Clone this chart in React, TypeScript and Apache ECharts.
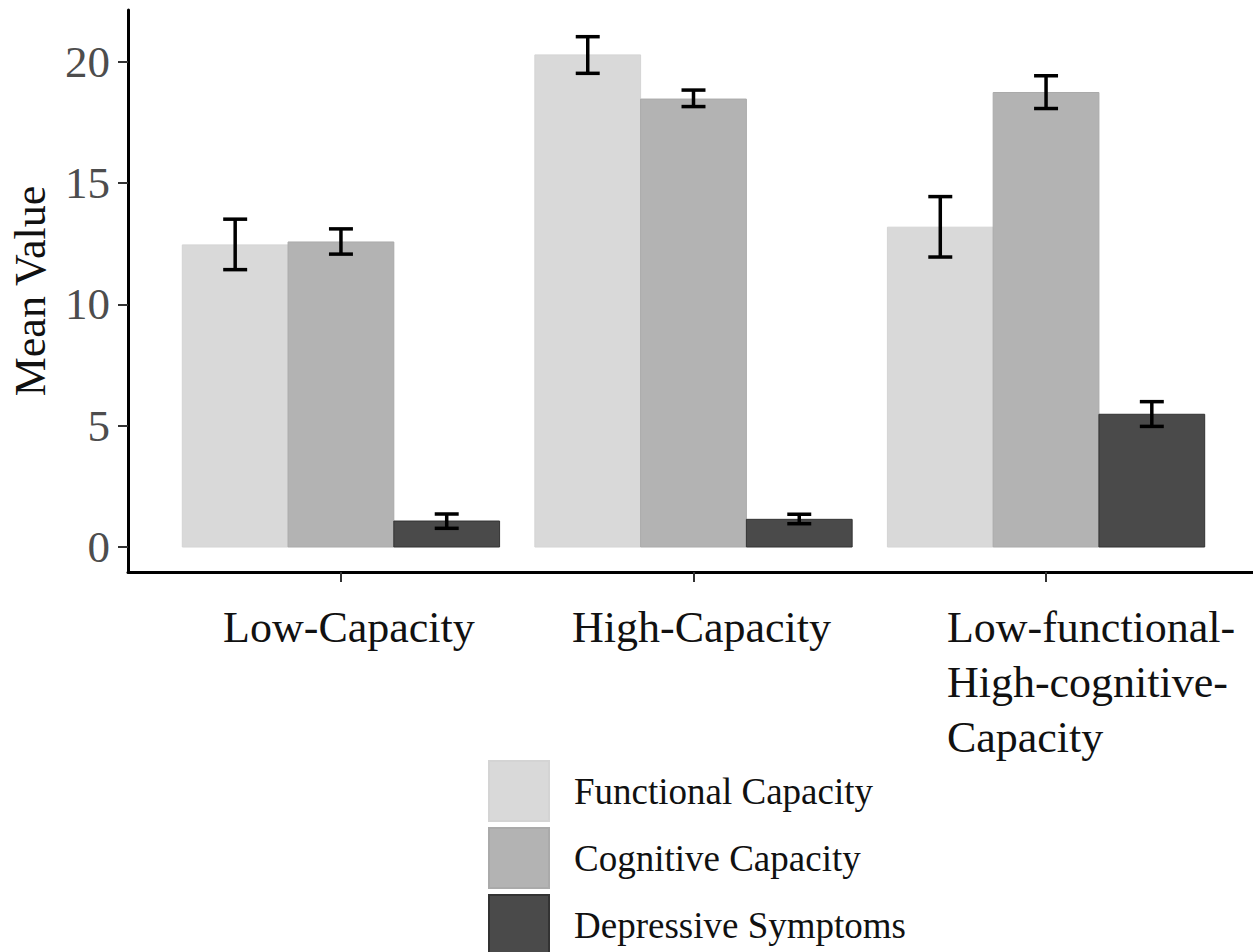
import React, { useEffect, useRef } from "react";
import * as echarts from "echarts";

const categories = [
  "Low-Capacity",
  "High-Capacity",
  "Low-functional-\nHigh-cognitive-\nCapacity",
];
const measures = ["Functional Capacity", "Cognitive Capacity", "Depressive Symptoms"];
const measureColors = ["#d9d9d9", "#b3b3b3", "#4a4a4a"];
const measureBorders = ["#d4d4d4", "#aaaaaa", "#333333"];

const functionalMean = [12.45, 20.28, 13.18];
const functionalLow = [11.43, 19.52, 11.95];
const functionalHigh = [13.51, 21.03, 14.44];

const cognitiveMean = [12.57, 18.46, 18.73];
const cognitiveLow = [12.07, 18.15, 18.07];
const cognitiveHigh = [13.11, 18.83, 19.42];

const depressiveMean = [1.07, 1.14, 5.47];
const depressiveLow = [0.77, 0.96, 4.97];
const depressiveHigh = [1.36, 1.35, 5.99];

const yTicks = [0, 5, 10, 15, 20];

const FONT = '"Liberation Serif", "Times New Roman", serif';

export default function App() {
  const ref = useRef<HTMLDivElement>(null);

  useEffect(() => {
    if (!ref.current) return;
    const chart = echarts.init(ref.current, undefined, { renderer: "svg" });

    const means = [functionalMean, cognitiveMean, depressiveMean];
    const lows = [functionalLow, cognitiveLow, depressiveLow];
    const highs = [functionalHigh, cognitiveHigh, depressiveHigh];
    const barW = 0.3;
    const capHalf = 0.034;

    const series = measures.map((name, s) => ({
      type: "custom",
      name,
      color: measureColors[s],
      itemStyle: { color: measureColors[s], borderColor: measureBorders[s], borderWidth: 1 },
      clip: false,
      encode: { x: 0, y: 1 },
      data: categories.map((_, i) => [i, means[s][i], lows[s][i], highs[s][i]]),
      renderItem: (params: any, api: any) => {
        const cat = api.value(0);
        const v = api.value(1);
        const lo = api.value(2);
        const hi = api.value(3);
        const xc = cat + (s - 1) * barW;
        const p0 = api.coord([xc - barW / 2, v]);
        const p1 = api.coord([xc + barW / 2, 0]);
        const pLo = api.coord([xc, lo]);
        const pHi = api.coord([xc, hi]);
        const cw = api.size([capHalf, 0])[0];
        const errStyle = { stroke: "#000000", lineWidth: 3.5, fill: "none" };
        return {
          type: "group",
          children: [
            {
              type: "rect",
              shape: { x: p0[0], y: p0[1], width: p1[0] - p0[0], height: p1[1] - p0[1] },
              style: { fill: measureColors[s], stroke: measureBorders[s], lineWidth: 1 },
            },
            { type: "line", shape: { x1: pLo[0], y1: pLo[1], x2: pHi[0], y2: pHi[1] }, style: errStyle },
            { type: "line", shape: { x1: pHi[0] - cw, y1: pHi[1], x2: pHi[0] + cw, y2: pHi[1] }, style: errStyle },
            { type: "line", shape: { x1: pLo[0] - cw, y1: pLo[1], x2: pLo[0] + cw, y2: pLo[1] }, style: errStyle },
          ],
        };
      },
    }));

    const labelStyle = { fontFamily: FONT, fontSize: 44, color: "#111111", lineHeight: 55 };

    chart.setOption({
      animation: false,
      backgroundColor: "#ffffff",
      grid: { left: 128, right: 0, top: 10, bottom: 380, containLabel: false },
      xAxis: {
        type: "value",
        min: -0.604,
        max: 2.587,
        splitLine: { show: false },
        axisLine: { show: true, onZero: false, lineStyle: { color: "#000000", width: 3 } },
        axisTick: { show: true, length: 10, customValues: [0, 1, 2], lineStyle: { color: "#333333", width: 2 } },
        axisLabel: {
          show: true,
          customValues: [0, 1, 2],
          margin: 28,
          verticalAlign: "top",
          formatter: (val: number) => {
            const i = Math.round(val);
            const lines = categories[i].split("\n");
            if (lines.length > 1) return lines.map((l) => "{c|" + l + "}").join("\n");
            return "{a|" + lines[0] + "}";
          },
          rich: {
            a: { ...labelStyle, padding: [0, 0, 0, 16] },
            c: { ...labelStyle, align: "left", padding: [0, 0, 0, 90] },
          },
        },
      },
      yAxis: {
        type: "value",
        min: -1.03,
        max: 22.13,
        name: "Mean Value",
        nameLocation: "middle",
        nameGap: 76,
        nameTextStyle: { fontFamily: FONT, fontSize: 44, color: "#111111" },
        splitLine: { show: false },
        axisLine: { show: true, onZero: false, lineStyle: { color: "#000000", width: 3 } },
        axisTick: { show: true, length: 10, customValues: yTicks, lineStyle: { color: "#333333", width: 2 } },
        axisLabel: {
          show: true,
          customValues: yTicks,
          margin: 18,
          fontFamily: FONT,
          fontSize: 45,
          color: "#4d4d4d",
        },
      },
      legend: {
        show: true,
        orient: "vertical",
        left: 488,
        top: 760,
        width: 500,
        height: 220,
        padding: 0,
        itemWidth: 60,
        itemHeight: 60,
        itemGap: 5,
        icon: "rect",
        data: measures,
        textStyle: { fontFamily: FONT, fontSize: 37, color: "#111111", padding: [0, 0, 0, 20] },
      },
      series,
    });

    return () => chart.dispose();
  }, []);

  return (
    <div
      ref={ref}
      style={{ position: "fixed", left: 0, top: 0, width: 1253, height: 952, background: "#ffffff" }}
    />
  );
}
